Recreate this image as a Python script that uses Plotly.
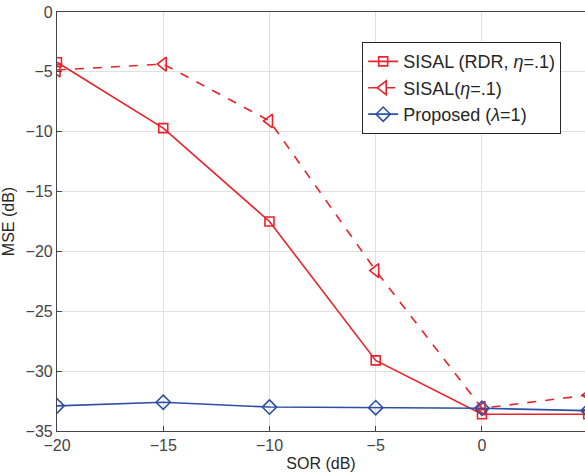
import plotly.graph_objects as go

sor = [-20, -15, -10, -5, 0, 5]
sisal_rdr = [-4.2, -9.7, -17.5, -29.1, -33.6, -33.6]
sisal = [-4.85, -4.35, -9.1, -21.6, -33.1, -32.0]
proposed = [-32.9, -32.6, -33.0, -33.05, -33.1, -33.3]

red = '#e8232b'
blue = '#2d4fa5'

fig = go.Figure()
fig.add_trace(go.Scatter(x=sor, y=sisal_rdr, mode='lines+markers',
                         name='SISAL (RDR, <i>η</i>=.1)',
                         line=dict(color=red, width=1.6),
                         marker=dict(symbol='square-open', size=9, color=red, line=dict(width=1.6))))
fig.add_trace(go.Scatter(x=sor, y=sisal, mode='lines+markers',
                         name='SISAL(<i>η</i>=.1)',
                         line=dict(color=red, width=1.6, dash='dash'),
                         marker=dict(symbol='triangle-left-open', size=12, color=red, line=dict(width=1.6))))
fig.add_trace(go.Scatter(x=sor, y=proposed, mode='lines+markers',
                         name='Proposed (<i>λ</i>=1)',
                         line=dict(color=blue, width=1.6),
                         marker=dict(symbol='diamond-open', size=11, color=blue, line=dict(width=1.6))))

axis_font = dict(family='Liberation Sans, Arial, sans-serif', size=16, color='#444444')
fig.update_layout(
    width=585, height=474,
    margin=dict(l=57, r=0, t=12, b=43),
    plot_bgcolor='white', paper_bgcolor='white',
    font=dict(family='Liberation Sans, Arial, sans-serif', color='#262626'),
    showlegend=True,
    legend=dict(x=0.578, y=0.928, xanchor='left', yanchor='top',
                bgcolor='white', bordercolor='#262626', borderwidth=1,
                font=dict(size=18, color='#262626'), tracegroupgap=0),
    xaxis=dict(range=[-20, 4.85], tickvals=[-20, -15, -10, -5, 0, 5],
               showgrid=True, gridcolor='#e0e0e0', gridwidth=1,
               showline=True, linecolor='#444444', linewidth=1.2, mirror=True,
               ticks='inside', ticklen=5, tickcolor='#444444',
               tickfont=axis_font, zeroline=False,
               title=dict(text='SOR (dB)', font=dict(size=16, color='#262626'), standoff=4)),
    yaxis=dict(range=[-35, 0], tickvals=[0, -5, -10, -15, -20, -25, -30, -35],
               showgrid=True, gridcolor='#e0e0e0', gridwidth=1,
               showline=True, linecolor='#444444', linewidth=1.2,
               ticks='inside', ticklen=5, tickcolor='#444444',
               tickfont=axis_font, zeroline=False,
               title=dict(text='MSE (dB)', font=dict(size=16, color='#262626'), standoff=6)),
)

fig.write_html('out.html')
